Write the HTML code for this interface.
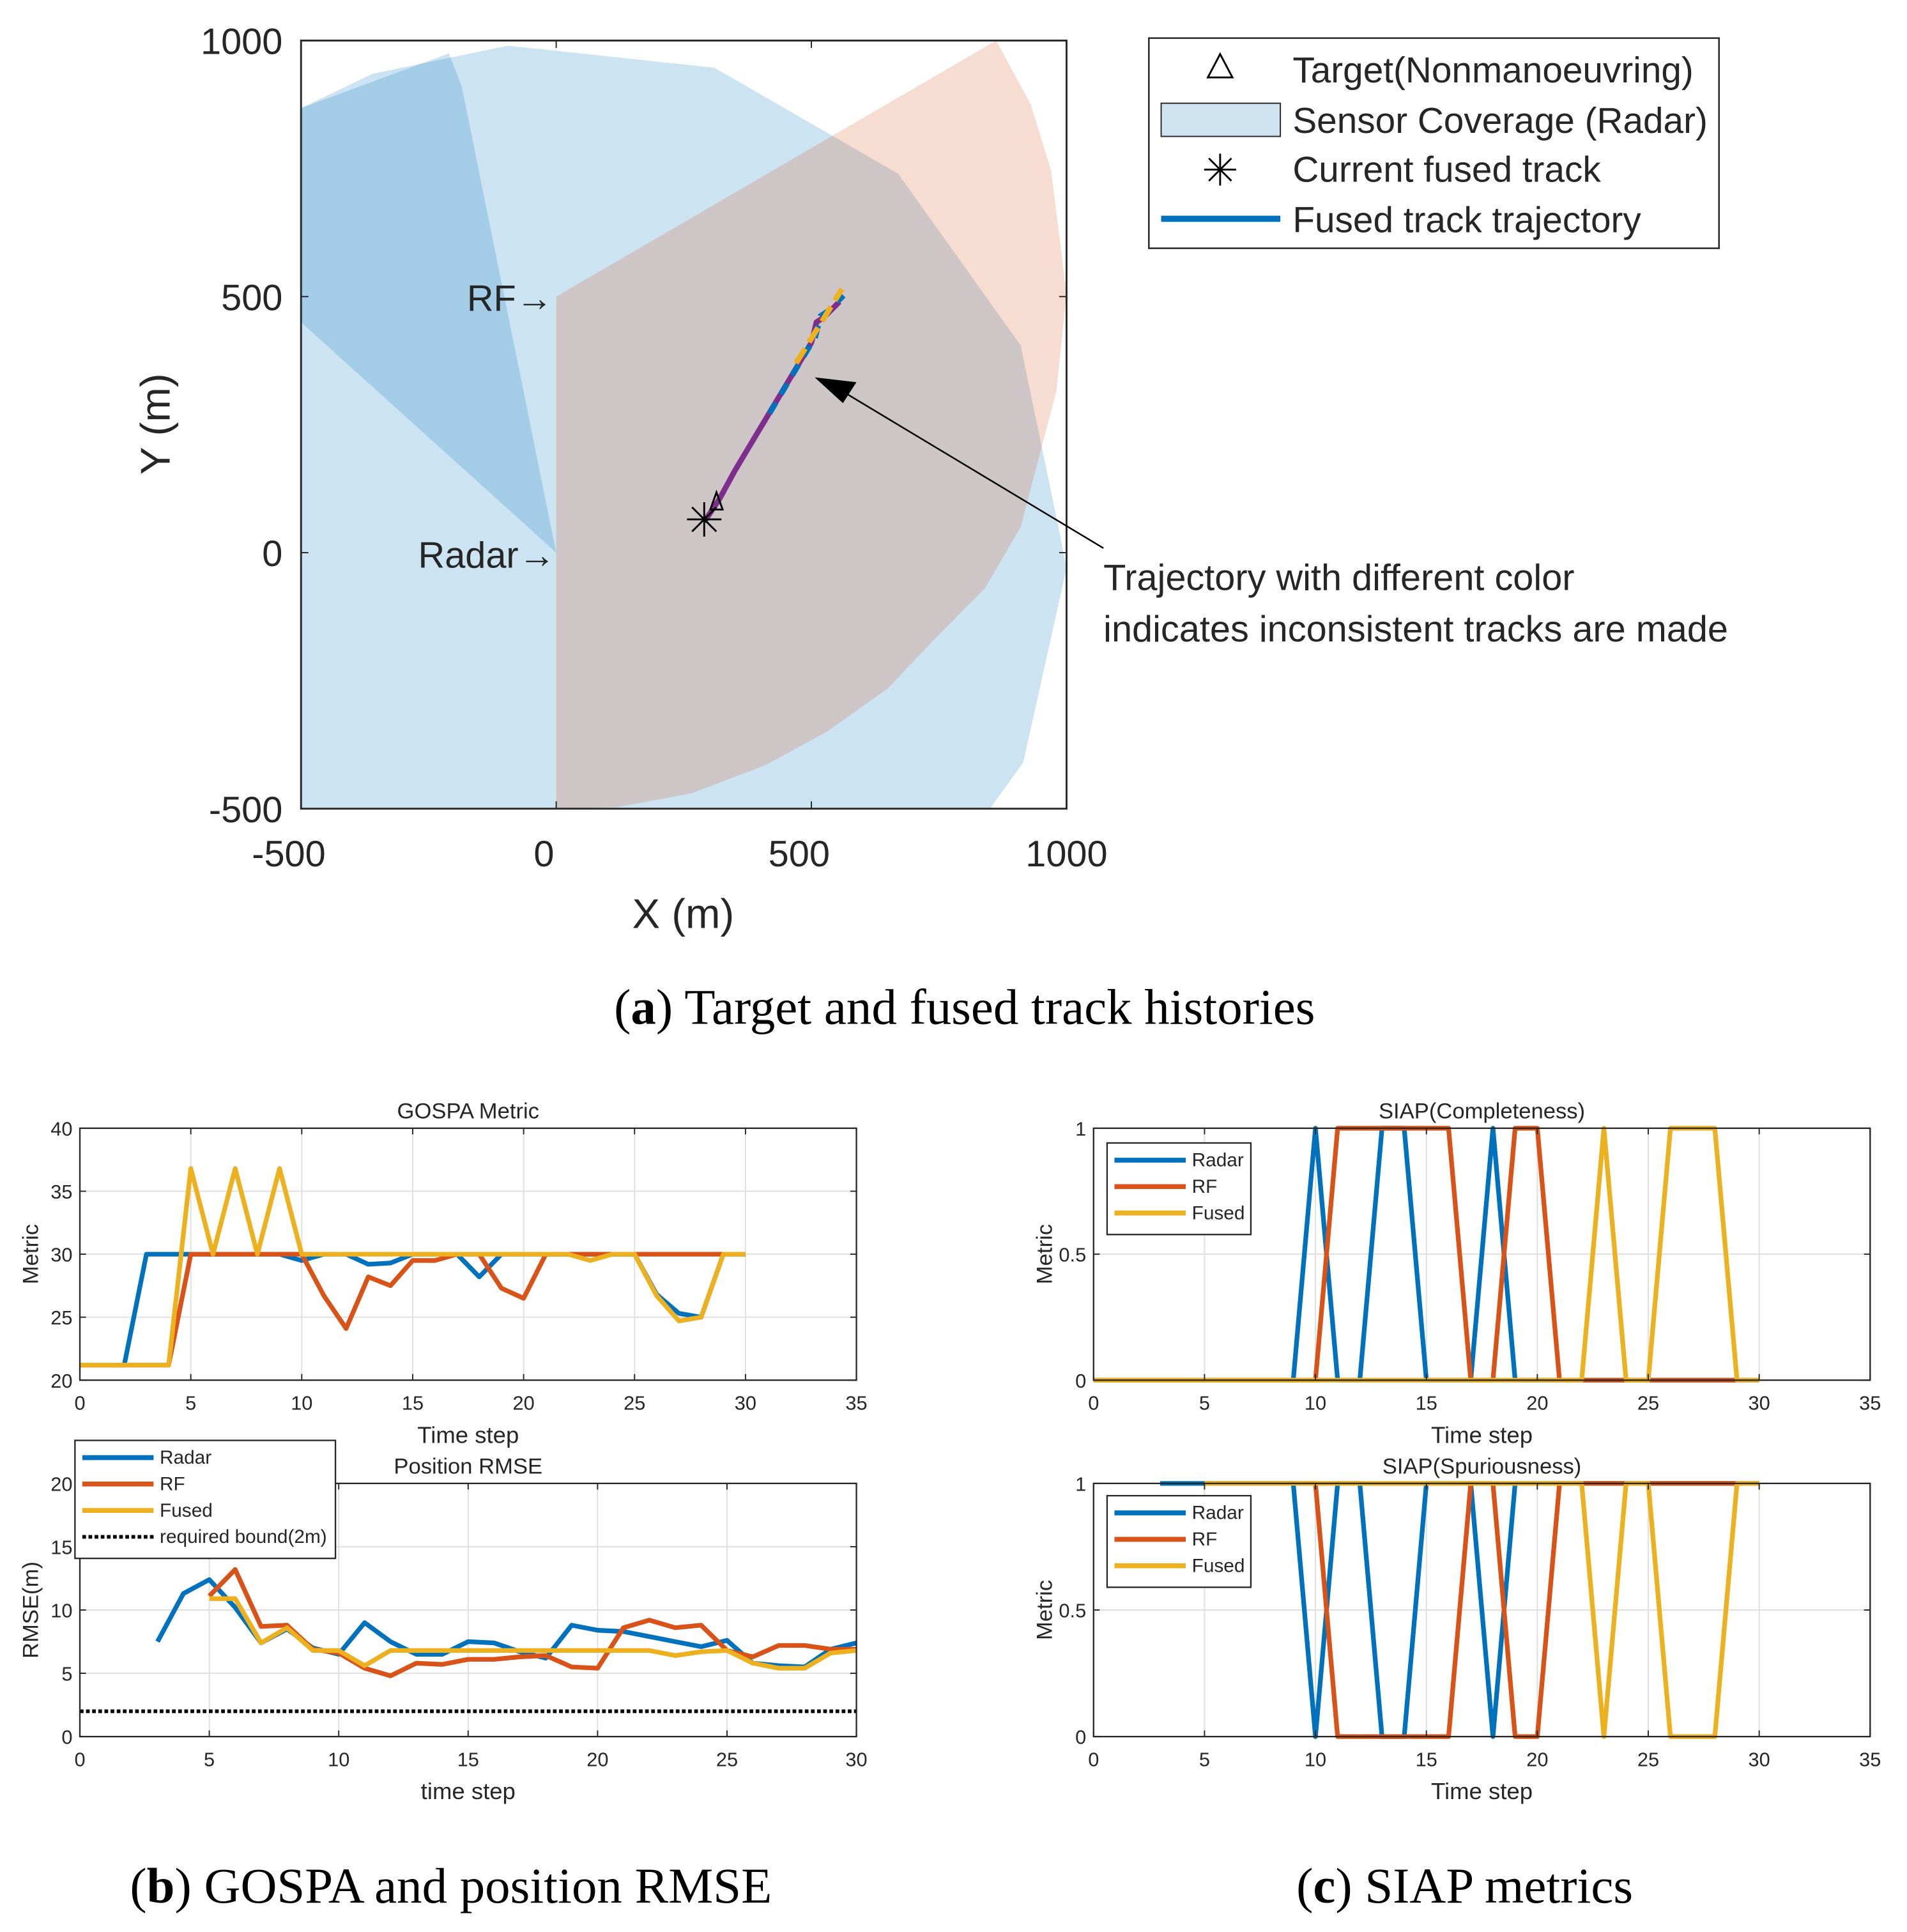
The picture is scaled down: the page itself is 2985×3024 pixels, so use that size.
<!DOCTYPE html>
<html><head><meta charset="utf-8"><style>
html,body{margin:0;padding:0;background:#fff}
svg{display:block}
text{font-family:"Liberation Sans",sans-serif;fill:#262626}
.cap{font-family:"Liberation Serif",serif;fill:#000}
</style></head><body>
<svg id="s" width="2985" height="3024" viewBox="0 0 1552 1572" preserveAspectRatio="none" xmlns="http://www.w3.org/2000/svg"></svg>
<script>
const gospaX=[0,1,2,3,4,5,6,7,8,9,10,11,12,13,14,15,16,17,18,19,20,21,22,23,24,25,26,27,28,29,30];
const gospaRadar=[21.2,21.2,21.2,30,30,30,30,30,30,30,29.5,30,30,29.2,29.3,30,30,30,28.2,30,30,30,30,30,30,30,26.8,25.3,25,30,30];
const gospaRF=[21.2,21.2,21.2,21.2,21.2,30,30,30,30,30,30,26.7,24.1,28.2,27.5,29.5,29.5,30,30,27.3,26.5,30,30,30,30,30,30,30,30,30];
const gospaFused=[21.2,21.2,21.2,21.2,21.2,36.8,30,36.8,30,36.8,30,30,30,30,30,30,30,30,30,30,30,30,30,29.5,30,30,26.7,24.7,25,30,30];
const rmseRadarX0=3;
const rmseRadar=[7.5,11.3,12.4,10.2,7.4,8.5,7.0,6.5,9.0,7.5,6.5,6.5,7.5,7.4,6.7,6.2,8.8,8.4,8.3,7.9,7.5,7.1,7.6,5.8,5.6,5.5,6.9,7.4];
const rmseRFX0=5;
const rmseRF=[11.1,13.2,8.7,8.8,6.9,6.6,5.4,4.8,5.8,5.7,6.1,6.1,6.3,6.4,5.5,5.4,8.6,9.2,8.6,8.8,6.8,6.3,7.2,7.2,6.9,6.9];
const rmseFusedX0=5;
const rmseFused=[10.9,10.9,7.4,8.6,6.8,6.8,5.6,6.8,6.8,6.8,6.8,6.8,6.8,6.8,6.8,6.8,6.8,6.8,6.4,6.7,6.8,5.8,5.4,5.4,6.6,6.8];
const rmseBound=2;
const compRadar=[0,0,0,0,0,0,0,0,0,0,1,0,0,1,1,0,0,0,1,0,0,0,0,0,0,0,0,0,0,0,0];
const compRF=[0,0,0,0,0,0,0,0,0,0,0,1,1,1,1,1,1,0,0,1,1,0,0,0,0,0,0,0,0,0];
const compFused=[0,0,0,0,0,0,0,0,0,0,0,0,0,0,0,0,0,0,0,0,0,0,0,1,0,0,1,1,1,0,0];
const spurRadarX0=3;
const spurRadar=[1,1,1,1,1,1,1,0,1,1,0,0,1,1,1,0,1,1,1,1,1,1,1,1,1,1,1,1];
const spurRFX0=5;
const spurRF=[1,1,1,1,1,1,0,0,0,0,0,0,1,1,0,0,1,1,1,1,1,1,1,1,1];
const spurFusedX0=5;
const spurFused=[1,1,1,1,1,1,1,1,1,1,1,1,1,1,1,1,1,1,0,1,1,0,0,0,1,1];
const trackX=[290,300,320,350,380,410,440,470,500,510,525,540,555];
const trackY=[60,75,105,160,210,260,310,360,410,450,460,475,490];

const S=document.getElementById('s');const NS='http://www.w3.org/2000/svg';
function el(t,a,p){const e=document.createElementNS(NS,t);for(const k in a)e.setAttribute(k,a[k]);(p||S).appendChild(e);return e;}
function txt(x,y,s,size,anchor,extra,par){const e=el('text',Object.assign({x:x,y:y,'font-size':size,'text-anchor':anchor||'middle'},extra||{}),par);e.textContent=s;return e;}
const C={b:'#0072bd',r:'#d95319',y:'#edb120'};

// ---- top panel
const TX=v=>245+(v+500)/1500*623, TY=v=>658-(v+500)/1500*625;
const g0=el('g',{});
const covBig=[[-500,868],[-360,935],[-95,990],[310,947],[670,740],[910,405],[980,70],[1000,-30],[915,-410],[850,-500],[-500,-500]];
const covWedge=[[-500,868],[-210,975],[-185,910],[0,0],[-500,450]];
const covRF=[[0,500],[862,1000],[930,875],[970,745],[1000,505],[980,315],[910,50],[840,-70],[745,-165],[650,-265],[530,-350],[410,-415],[265,-470],[120,-497],[0,-500]];
const ptsStr=a=>a.map(p=>TX(p[0])+','+TY(p[1])).join(' ');
let p=el('polygon',{points:ptsStr(covBig),fill:C.b,'fill-opacity':0.2},g0);
p=el('polygon',{points:ptsStr(covWedge),fill:C.b,'fill-opacity':0.2},g0);
p=el('polygon',{points:ptsStr(covRF),fill:C.r,'fill-opacity':0.2},g0);
const tpts=trackX.map((x,i)=>TX(x)+','+TY(trackY[i])).join(' ');
p=el('polyline',{points:tpts,fill:'none',stroke:'#7e2f8e','stroke-width':4.5},g0);
p=el('polyline',{points:trackX.slice(5).map((x,i)=>TX(x+8)+','+TY(trackY[i+5]+12)).join(' '),fill:'none',stroke:C.b,'stroke-width':4.5,'stroke-dasharray':'10 8'},g0);
p=el('line',{x1:TX(470),y1:TY(370),x2:TX(560),y2:TY(515),stroke:C.y,'stroke-width':4.5,'stroke-dasharray':'14 6'},g0);
const sx=TX(290),sy=TY(65);
for(let a=0;a<4;a++){const an=a*Math.PI/4;el('line',{x1:sx-14*Math.cos(an),y1:sy-14*Math.sin(an),x2:sx+14*Math.cos(an),y2:sy+14*Math.sin(an),stroke:'#000','stroke-width':1.5},g0);}
el('path',{d:`M${sx+5},${sy-8} l5,-14 l5,14 z`,fill:'none',stroke:'#000','stroke-width':1.5},g0);
el('rect',{x:245,y:33,width:623,height:625,fill:'none',stroke:'#262626','stroke-width':1.5},g0);
[-500,0,500,1000].forEach(v=>{el('line',{x1:TX(v),y1:658,x2:TX(v),y2:652,stroke:'#262626'},g0);el('line',{x1:TX(v),y1:33,x2:TX(v),y2:39,stroke:'#262626'},g0);
 el('line',{x1:245,y1:TY(v),x2:251,y2:TY(v),stroke:'#262626'},g0);el('line',{x1:868,y1:TY(v),x2:862,y2:TY(v),stroke:'#262626'},g0);
 let t=txt(TX(v)-(v==1000?0:10),705,String(v),30);
 t=txt(230,TY(v)+11,String(v),30,'end');});
let t=txt(556,755,'X (m)',34);
t=txt(0,0,'Y (m)',34,'middle',{transform:'translate(138,345) rotate(-90)'});
t=txt(450,253,'RF→',30,'end');
t=txt(452,462,'Radar→',30,'end');
el('line',{x1:898,y1:446,x2:685,y2:318,stroke:'#000','stroke-width':1.3});
el('polygon',{points:'663,307 697,311 686,328',fill:'#000'});
t=txt(898,480,'Trajectory with different color',30,'start');
t=txt(898,522,'indicates inconsistent tracks are made',30,'start');
const lg=el('g',{});
el('rect',{x:935,y:31,width:464,height:171,fill:'#fff',stroke:'#262626','stroke-width':1.3},lg);
el('path',{d:'M993,44 l10,19 h-20 z',fill:'none',stroke:'#000','stroke-width':1.5},lg);
el('rect',{x:945,y:84,width:97,height:27,fill:'#d0e3f1',stroke:'#262626'},lg);
for(let a=0;a<4;a++){const an=a*Math.PI/4;el('line',{x1:993-13*Math.cos(an),y1:138-13*Math.sin(an),x2:993+13*Math.cos(an),y2:138+13*Math.sin(an),stroke:'#000','stroke-width':1.5},lg);}
el('line',{x1:945,y1:178,x2:1042,y2:178,stroke:C.b,'stroke-width':5},lg);
[['Target(Nonmanoeuvring)',67],['Sensor Coverage (Radar)',108],['Current fused track',148],['Fused track trajectory',189]].forEach(a=>{const e=txt(1052,a[1],a[0],29.5,'start',{},lg);});
t=el('text',{x:785,y:833,'font-size':41,'text-anchor':'middle',class:'cap'});t.innerHTML='(<tspan font-weight="bold">a</tspan>) Target and fused track histories';


// ---- small charts
function chart(o){
 const g=el('g',{});
 const X=v=>o.x0+(v-o.xmin)/(o.xmax-o.xmin)*(o.x1-o.x0), Y=v=>o.y1-(v-o.ymin)/(o.ymax-o.ymin)*(o.y1-o.y0);
 o.xt.forEach(v=>{el('line',{x1:X(v),y1:o.y0,x2:X(v),y2:o.y1,stroke:'#dfdfdf'},g);});
 o.yt.forEach(v=>{el('line',{x1:o.x0,y1:Y(v),x2:o.x1,y2:Y(v),stroke:'#dfdfdf'},g);});
 o.series.forEach(s=>{const pts=s.v.map((v,i)=>X(s.x0+i)+','+Y(v)).join(' ');
  const pl=el('polyline',{points:pts,fill:'none',stroke:s.c,'stroke-width':s.w||3.8,'stroke-dasharray':s.d||'none','stroke-linejoin':'round'},g);
  });
 el('rect',{x:o.x0,y:o.y0,width:o.x1-o.x0,height:o.y1-o.y0,fill:'none',stroke:'#262626','stroke-width':1.2},g);
 o.xt.forEach(v=>{el('line',{x1:X(v),y1:o.y1,x2:X(v),y2:o.y1-5,stroke:'#262626'},g);el('line',{x1:X(v),y1:o.y0,x2:X(v),y2:o.y0+5,stroke:'#262626'},g);
  const e=txt(X(v),o.y1+24,String(v),16,'middle',{},g);});
 o.yt.forEach((v,i)=>{el('line',{x1:o.x0,y1:Y(v),x2:o.x0+5,y2:Y(v),stroke:'#262626'},g);el('line',{x1:o.x1,y1:Y(v),x2:o.x1-5,y2:Y(v),stroke:'#262626'},g);
  const e=txt(o.x0-6,Y(v)+6,o.yl[i],16,'end',{},g);});
 let e=txt((o.x0+o.x1)/2,o.y0-8,o.title,18,'middle',{},g);
 e=txt((o.x0+o.x1)/2,o.y1+51,o.xlab,19,'middle',{},g);
 e=txt(0,0,o.ylab,18,'middle',{transform:`translate(${o.x0-34},${(o.y0+o.y1)/2}) rotate(-90)`},g);
 return g;
}
function legend(x,y,w,items,g){const lgd=el('g',{},g);
 el('rect',{x:x,y:y,width:w,height:items.length*21.5+10,fill:'#fff',stroke:'#262626','stroke-width':1.2},lgd);
 items.forEach((it,i)=>{const yy=y+14+i*21.5;el('line',{x1:x+6,y1:yy,x2:x+64,y2:yy,stroke:it[1],'stroke-width':it[2]||4,'stroke-dasharray':it[3]||'none'},lgd);
  const e=txt(x+69,yy+5,it[0],15.5,'start',{},lgd);});}
const xt35=[0,5,10,15,20,25,30,35];
chart({name:'gospa-chart',x0:65,x1:697,y0:918,y1:1123,xmin:0,xmax:35,ymin:20,ymax:40,xt:xt35,yt:[20,25,30,35,40],yl:['20','25','30','35','40'],title:'GOSPA Metric',xlab:'Time step',ylab:'Metric',
 series:[{n:'gospa-radar',c:C.b,v:gospaRadar,x0:0},{n:'gospa-rf',c:C.r,v:gospaRF,x0:0},{n:'gospa-fused',c:C.y,v:gospaFused,x0:0}]});
const rg=chart({name:'rmse-chart',x0:65,x1:697,y0:1207,y1:1413,xmin:0,xmax:30,ymin:0,ymax:20,xt:[0,5,10,15,20,25,30],yt:[0,5,10,15,20],yl:['0','5','10','15','20'],title:'Position RMSE',xlab:'time step',ylab:'RMSE(m)',
 series:[{n:'rmse-radar',c:C.b,v:rmseRadar,x0:rmseRadarX0},{n:'rmse-rf',c:C.r,v:rmseRF,x0:rmseRFX0},{n:'rmse-fused',c:C.y,v:rmseFused,x0:rmseFusedX0},{n:'rmse-required-bound',c:'#000',v:gospaX.map(()=>rmseBound),x0:0,w:3,d:'3 2'}]});
legend(61,1172,212,[['Radar',C.b],['RF',C.r],['Fused',C.y],['required bound(2m)','#000',3,'3 2']],rg);
const cg=chart({name:'siap-completeness-chart',x0:890,x1:1522,y0:918,y1:1123,xmin:0,xmax:35,ymin:0,ymax:1,xt:xt35,yt:[0,0.5,1],yl:['0','0.5','1'],title:'SIAP(Completeness)',xlab:'Time step',ylab:'Metric',
 series:[{n:'comp-radar',c:C.b,v:compRadar,x0:0},{n:'comp-rf',c:C.r,v:compRF,x0:0},{n:'comp-fused',c:C.y,v:compFused,x0:0}]});
legend(901,930,117,[['Radar',C.b],['RF',C.r],['Fused',C.y]],cg);
const sg=chart({name:'siap-spuriousness-chart',x0:890,x1:1522,y0:1207,y1:1413,xmin:0,xmax:35,ymin:0,ymax:1,xt:xt35,yt:[0,0.5,1],yl:['0','0.5','1'],title:'SIAP(Spuriousness)',xlab:'Time step',ylab:'Metric',
 series:[{n:'spur-radar',c:C.b,v:spurRadar,x0:spurRadarX0},{n:'spur-rf',c:C.r,v:spurRF,x0:spurRFX0},{n:'spur-fused',c:C.y,v:spurFused,x0:spurFusedX0}]});
legend(901,1217,117,[['Radar',C.b],['RF',C.r],['Fused',C.y]],sg);
t=el('text',{x:367,y:1548,'font-size':41,'text-anchor':'middle',class:'cap'});t.innerHTML='(<tspan font-weight="bold">b</tspan>) GOSPA and position RMSE';

t=el('text',{x:1192,y:1548,'font-size':41,'text-anchor':'middle',class:'cap'});t.innerHTML='(<tspan font-weight="bold">c</tspan>) SIAP metrics';

</script>
</body></html>
